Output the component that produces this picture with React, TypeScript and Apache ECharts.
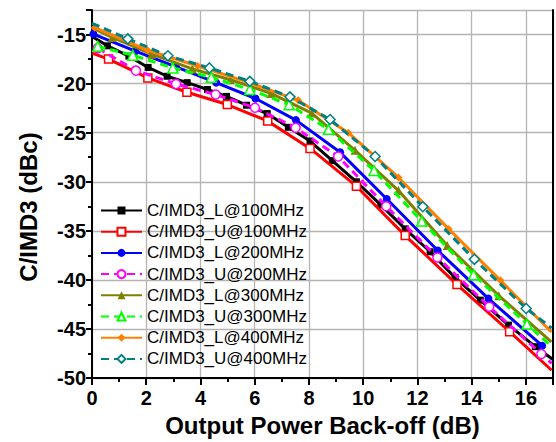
import React, { useEffect, useRef } from "react";
import * as echarts from "echarts";

// ---- data ----
const seriesNames = [
  "C/IMD3_L@100MHz",
  "C/IMD3_U@100MHz",
  "C/IMD3_L@200MHz",
  "C/IMD3_U@200MHz",
  "C/IMD3_L@300MHz",
  "C/IMD3_U@300MHz",
  "C/IMD3_L@400MHz",
  "C/IMD3_U@400MHz",
];

const xL100 = [0, 0.57, 1.36, 2.07, 2.77, 3.51, 4.26, 4.96, 5.7, 6.46, 7.24, 8.04, 8.86, 9.75, 10.65, 11.55, 12.47, 13.39, 14.32, 15.36, 16.35, 17.0];
const yL100 = [-15.2, -16.15, -17.2, -18.35, -19.25, -19.9, -20.6, -21.3, -22.2, -23.05, -24.45, -25.85, -27.85, -30.0, -32.36, -34.8, -37.13, -39.76, -42.06, -44.6, -46.8, -48.1];

const xU100 = [0, 0.61, 2.06, 3.5, 4.99, 6.48, 8.04, 9.75, 11.55, 13.46, 15.4, 16.95];
const yU100 = [-16.9, -17.5, -19.42, -20.88, -22.13, -23.82, -26.6, -30.45, -35.48, -40.47, -45.27, -49.2];

const xL200 = [0.05, 1.6, 3.1, 4.58, 6.03, 7.52, 9.15, 10.87, 12.75, 14.62, 16.6];
const yL200 = [-14.95, -16.7, -18.3, -19.9, -21.52, -23.72, -27.0, -31.75, -37.0, -41.9, -46.7];

const xU200 = [0.21, 1.62, 3.1, 4.56, 6.01, 7.51, 9.08, 10.85, 12.74, 14.65, 16.57, 16.95];
const yU200 = [-16.38, -18.68, -20.03, -21.11, -22.46, -24.5, -27.43, -32.5, -37.72, -42.73, -47.54, -48.5];

const xL300 = [0, 0.75, 2.2, 3.7, 5.1, 6.6, 8.1, 9.7, 11.3, 13.1, 15.0, 16.94];
const yL300 = [-14.3, -15.3, -17.0, -18.5, -19.6, -21.0, -23.0, -26.8, -30.9, -36.5, -41.6, -46.3];

const xU300 = [0.21, 1.5, 2.98, 4.4, 5.82, 7.27, 8.72, 10.4, 12.16, 14.07, 16.04, 16.95];
const yU300 = [-16.2, -17.1, -18.4, -19.36, -20.6, -22.15, -24.66, -28.85, -34.0, -39.46, -44.5, -46.8];

const xL400 = [0.1, 2.05, 3.9, 5.75, 7.6, 9.45, 11.3, 13.15, 15.06, 16.94];
const yL400 = [-14.3, -16.6, -18.2, -19.85, -21.7, -25.0, -29.56, -34.8, -40.04, -45.3];

const xU400 = [0, 1.32, 2.8, 4.33, 5.82, 7.3, 8.78, 10.44, 12.2, 14.1, 16.01, 16.95];
const yU400 = [-13.85, -15.44, -17.16, -18.4, -19.77, -21.35, -23.65, -27.43, -32.55, -37.9, -42.9, -44.9];

const xTicks = [0, 2, 4, 6, 8, 10, 12, 14, 16];
const yTicks = [-50, -45, -40, -35, -30, -25, -20, -15];

const FONT = 'Arial, "Liberation Sans", Helvetica, sans-serif';

type Cfg = {
  x: number[];
  y: number[];
  color: string;
  dashed: boolean;
  symbol: string;
  size: number;
  hollow: boolean;
  skipFirst: boolean;
  skipLast: boolean;
};

const cfgs: Cfg[] = [
  { x: xL100, y: yL100, color: "#000000", dashed: false, symbol: "rect", size: 7, hollow: false, skipFirst: true, skipLast: true },
  { x: xU100, y: yU100, color: "#FF0000", dashed: false, symbol: "rect", size: 8, hollow: true, skipFirst: true, skipLast: true },
  { x: xL200, y: yL200, color: "#0000FF", dashed: false, symbol: "circle", size: 8, hollow: false, skipFirst: false, skipLast: false },
  { x: xU200, y: yU200, color: "#FF00FF", dashed: true, symbol: "circle", size: 9, hollow: true, skipFirst: false, skipLast: true },
  { x: xL300, y: yL300, color: "#808000", dashed: false, symbol: "triangle", size: 9, hollow: false, skipFirst: true, skipLast: true },
  { x: xU300, y: yU300, color: "#00FF00", dashed: true, symbol: "triangle", size: 10, hollow: true, skipFirst: false, skipLast: true },
  { x: xL400, y: yL400, color: "#FF8000", dashed: false, symbol: "diamond", size: 8, hollow: false, skipFirst: false, skipLast: true },
  { x: xU400, y: yU400, color: "#008080", dashed: true, symbol: "diamond", size: 10, hollow: true, skipFirst: true, skipLast: true },
];

export default function App() {
  const ref = useRef<HTMLDivElement>(null);

  useEffect(() => {
    if (!ref.current) return;
    const chart = echarts.init(ref.current, null, { renderer: "svg" });

    const series = cfgs.map((c, si) => ({
      name: seriesNames[si],
      type: "line",
      xAxisIndex: 0,
      yAxisIndex: 0,
      smooth: false,
      showSymbol: true,
      symbol: c.symbol,
      symbolSize: c.size,
      z: 2 + si,
      lineStyle: {
        color: c.color,
        width: 3,
        type: c.dashed ? [8, 5] : "solid",
        join: "round",
      },
      itemStyle: c.hollow
        ? { color: "#ffffff", borderColor: c.color, borderWidth: 1.5 }
        : { color: c.color, borderColor: c.color, borderWidth: 0 },
      data: c.x.map((xv, i) => {
        const hide = (c.skipFirst && i === 0) || (c.skipLast && i === c.x.length - 1);
        return hide ? { value: [xv, c.y[i]], symbol: "none" } : { value: [xv, c.y[i]] };
      }),
      emphasis: { disabled: true },
    }));

    chart.setOption({
      animation: false,
      grid: { left: 92, right: 3, top: 10, bottom: 62, containLabel: false },
      legend: {
        left: 100,
        top: 202,
        orient: "vertical",
        padding: 0,
        itemWidth: 41,
        itemHeight: 10,
        itemGap: 4.2,
        data: seriesNames,
        textStyle: { fontSize: 17, color: "#000", fontFamily: FONT },
      },
      xAxis: {
        type: "value",
        min: 0,
        max: 17,
        interval: 2,
        name: "Output Power Back-off (dB)",
        nameLocation: "middle",
        nameGap: 33,
        nameTextStyle: { fontSize: 24, fontWeight: "bold", color: "#000", fontFamily: FONT },
        axisLine: { show: true, onZero: false, lineStyle: { color: "#000", width: 2 } },
        axisTick: { show: true, inside: false, length: 7, lineStyle: { color: "#000", width: 2 } },
        minorTick: { show: true, splitNumber: 2, length: 4, lineStyle: { color: "#000", width: 2 } },
        axisLabel: {
          fontSize: 20,
          fontWeight: "bold",
          color: "#000",
          fontFamily: FONT,
          margin: 10,
          showMaxLabel: false,
          formatter: (v: number) => (xTicks.includes(v) ? String(v) : ""),
        },
        splitLine: { show: true, lineStyle: { color: "#b4b4b4", width: 1.3 } },
      },
      yAxis: [
        {
          type: "value",
          min: -50,
          max: -12.5,
          interval: 5,
          axisLine: { show: true, onZero: false, lineStyle: { color: "#000", width: 2 } },
          axisTick: { show: true, inside: false, length: 6, lineStyle: { color: "#000", width: 2 } },
          minorTick: { show: true, splitNumber: 2, length: 4, lineStyle: { color: "#000", width: 2 } },
          axisLabel: {
            fontSize: 20,
            fontWeight: "bold",
            color: "#000",
            fontFamily: FONT,
            margin: 6,
            showMaxLabel: false,
            formatter: (v: number) => (yTicks.includes(v) ? String(v) : ""),
          },
          splitLine: { show: true, lineStyle: { color: "#b4b4b4", width: 1.3 } },
        },
        {
          type: "value",
          position: "right",
          min: -50,
          max: -12.5,
          interval: 5,
          axisLine: { show: true, onZero: false, lineStyle: { color: "#000", width: 2 } },
          axisTick: { show: false },
          axisLabel: { show: false },
          splitLine: { show: false },
        },
      ],
      graphic: [
        {
          type: "text",
          x: 28,
          y: 207,
          rotation: Math.PI / 2,
          style: {
            text: "C/IMD3 (dBc)",
            font: `bold 24px ${FONT}`,
            fill: "#000",
            align: "center",
            verticalAlign: "middle",
          },
        },
      ],
      series,
    });

    return () => chart.dispose();
  }, []);

  return (
    <div
      ref={ref}
      style={{ position: "fixed", left: 0, top: 0, width: 556, height: 442, background: "#fff" }}
    />
  );
}
